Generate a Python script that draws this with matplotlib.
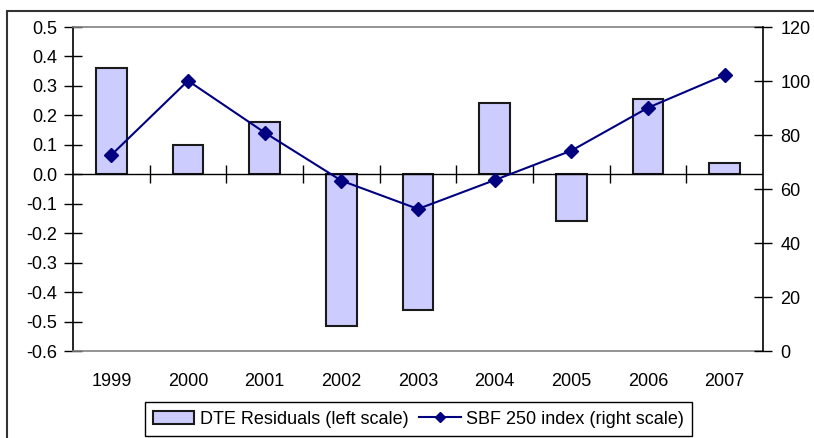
import matplotlib
matplotlib.use("Agg")
import matplotlib.pyplot as plt
import matplotlib.patches as mpatches
from matplotlib.lines import Line2D
import numpy as np

plt.rcParams['font.family'] = ['Liberation Sans', 'DejaVu Sans']
plt.rcParams['font.size'] = 13

# Yearly residuals (left scale) and index level (right scale)
years = ["1999", "2000", "2001", "2002", "2003", "2004", "2005", "2006", "2007"]
dte_residuals = [0.362, 0.100, 0.176, -0.515, -0.462, 0.242, -0.157, 0.256, 0.038]
sbf250_index = [72.6, 100.1, 80.9, 63.1, 52.6, 63.3, 74.2, 90.1, 102.2]

left_ticks = [0.5, 0.4, 0.3, 0.2, 0.1, 0.0, -0.1, -0.2, -0.3, -0.4, -0.5, -0.6]
right_ticks = [0, 20, 40, 60, 80, 100, 120]

W, H = 814, 438
fig = plt.figure(figsize=(W / 100, H / 100), dpi=100)
ax = fig.add_axes([73 / W, (H - 351) / H, (763 - 73) / W, (351 - 27) / H])

x = np.arange(len(years))
bar_color = "#CCCCFF"
line_color = "#000080"

ax.bar(x, dte_residuals, width=0.4, color=bar_color, edgecolor="#1a1a1a",
       linewidth=1.5, zorder=2)
ax.axhline(0, color="black", linewidth=1.0, zorder=3)

ax.set_xlim(-0.5, len(years) - 0.5)
ax.set_ylim(-0.6, 0.5)
ax.set_yticks(left_ticks)
ax.set_yticklabels(["%.1f" % v for v in left_ticks])
ax.tick_params(axis="y", direction="inout", length=13, width=1, pad=5,
               labelsize=13)
ax.set_xticks(x)
ax.set_xticklabels(years)
ax.tick_params(axis="x", length=0, pad=16, labelsize=13)

for side in ("top", "bottom"):
    ax.spines[side].set_color("#808080")
    ax.spines[side].set_linewidth(1.2)
ax.spines["left"].set_color("black")
ax.spines["left"].set_linewidth(1.2)
ax.spines["right"].set_visible(False)

# category boundary ticks crossing the zero line
zero_pos = (0 - (-0.6)) / (0.5 - (-0.6))
sec = ax.secondary_xaxis(zero_pos)
sec.set_xticks(np.arange(0.5, len(years) - 1, 1.0))
sec.set_xticklabels([])
sec.tick_params(axis="x", direction="inout", length=13, width=1)
sec.spines["bottom"].set_visible(False)
sec.spines["top"].set_visible(False)

ax2 = ax.twinx()
ax2.plot(x, sbf250_index, color=line_color, linewidth=1.5, marker="D",
         markersize=7, zorder=4)
ax2.set_ylim(0, 120)
ax2.set_yticks(right_ticks)
ax2.tick_params(axis="y", direction="inout", length=13, width=1, pad=6,
                labelsize=13)
ax2.spines["right"].set_color("black")
ax2.spines["right"].set_linewidth(1.2)
for side in ("top", "bottom", "left"):
    ax2.spines[side].set_visible(False)

handles = [
    mpatches.Patch(facecolor=bar_color, edgecolor="#1a1a1a", linewidth=1.5),
    Line2D([], [], color=line_color, linewidth=1.5, marker="D", markersize=5),
]
labels = ["DTE Residuals (left scale)", "SBF 250 index (right scale)"]
leg = fig.legend(handles, labels, loc="center", ncol=2,
                 bbox_to_anchor=(418.5 / W, 1 - 419 / H), frameon=True,
                 fancybox=False, edgecolor="black", framealpha=1,
                 handlelength=2.3, handletextpad=0.3, columnspacing=0.6,
                 borderpad=0.45, fontsize=13)
leg.get_frame().set_linewidth(1.0)

# outer chart frame
fig.patches.append(mpatches.Rectangle((7 / W, -0.1), 2.0, 1.1 - 11 / H,
                                      transform=fig.transFigure, fill=False,
                                      edgecolor="#333333", linewidth=1.5))

fig.savefig("out.png", dpi=100)
